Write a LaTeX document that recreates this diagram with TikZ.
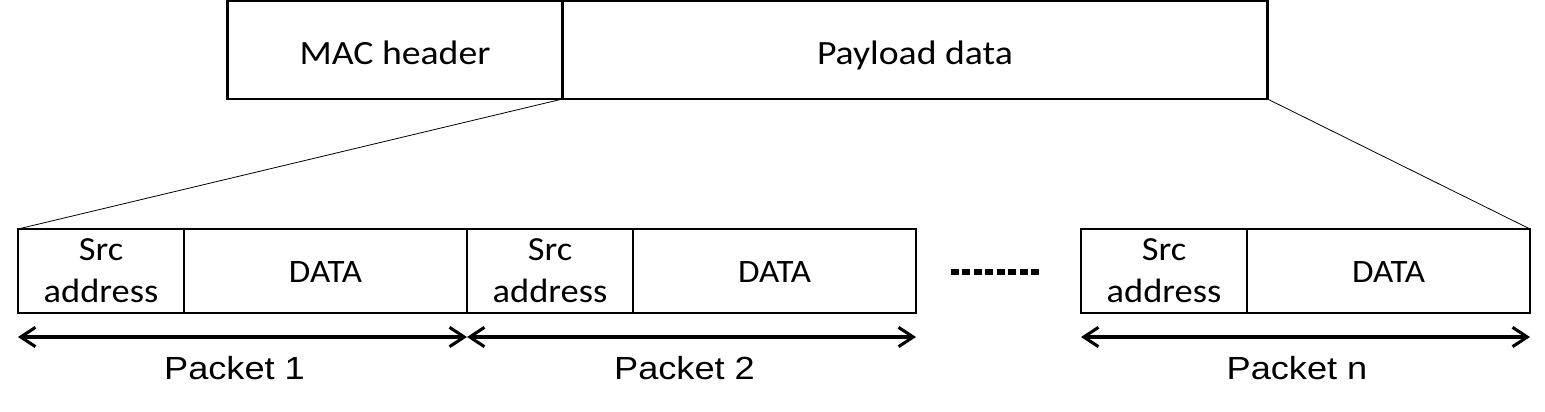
\documentclass[tikz,border=0pt]{standalone}
\usepackage{fontspec}
\usepackage{graphicx}
\setmainfont{Carlito}
\newfontfamily\arialf{Liberation Sans}
\usetikzlibrary{arrows.meta}
\newcommand{\hs}[2][1.08]{\scalebox{#1}[1]{#2}}
\begin{document}
\begin{tikzpicture}[x=0.75pt,y=-0.75pt,
  cell/.style={draw,line width=1.6pt,rectangle,inner sep=0pt,outer sep=0pt,align=center},
  srccell/.style={cell,minimum width=124.5pt,minimum height=63pt,font=\fontsize{25.3}{31.5}\selectfont},
  datacell/.style={cell,minimum width=212.25pt,minimum height=63pt,font=\fontsize{24.5}{30}\selectfont,text height=16.5pt,text depth=0pt},
  topcell/.style={cell,minimum height=73.5pt,font=\fontsize{25.5}{30}\selectfont,text height=21pt,text depth=0pt},
  funnel/.style={draw,line width=0.6pt},
  dim/.style={line width=2.3pt,{Straight Barb[length=11pt,width=14.5pt,line width=2.3pt]}-{Straight Barb[length=11pt,width=14.5pt,line width=2.3pt]}},
  plabel/.style={anchor=base,inner sep=0pt,font=\arialf\fontsize{24}{28}\selectfont},
  dots/.style={line width=3.8pt,dash pattern=on 6pt off 2.6pt}
]
\useasboundingbox (0,0) rectangle (1545,411);
% top frame
\node[topcell,minimum width=251.25pt] (mac) at (395,50) {\hs[1.11]{MAC header}};
\node[topcell,minimum width=528.75pt] (pay) at (915,50) {\hs[1.11]{Payload data}};
% packets
\node[srccell] (src1) at (101,271) {\hs{Src}\\\hs{address}};
\node[datacell] (data1) at (325.5,271) {\hs[1.07]{DATA}};
\node[srccell] (src2) at (550,271) {\hs{Src}\\\hs{address}};
\node[datacell] (data2) at (774.5,271) {\hs[1.07]{DATA}};
\node[srccell] (srcn) at (1164,271) {\hs{Src}\\\hs{address}};
\node[datacell] (datan) at (1388.5,271) {\hs[1.07]{DATA}};
% funnel lines
\draw[funnel] (mac.south east) -- (src1.north west);
\draw[funnel] (pay.south east) -- (datan.north east);
% dots
\coordinate (d1) at (951,272);
\coordinate (d2) at (1039,272);
\draw[dots] (d1) -- (d2);
% dimension arrows
\coordinate (a1l) at (18,337);
\coordinate (a1r) at (467,337);
\coordinate (a2l) at (467,337);
\coordinate (a2r) at (916,337);
\coordinate (anl) at (1081,337);
\coordinate (anr) at (1530,337);
\draw[dim] (a1l) -- (a1r);
\draw[dim] (a2l) -- (a2r);
\draw[dim] (anl) -- (anr);
% labels
\node[plabel] (p1) at (234.5,379) {\hs[1.13]{Packet 1}};
\node[plabel] (p2) at (684.5,379) {\hs[1.13]{Packet 2}};
\node[plabel] (pn) at (1297,379) {\hs[1.13]{Packet n}};
\end{tikzpicture}
\end{document}
